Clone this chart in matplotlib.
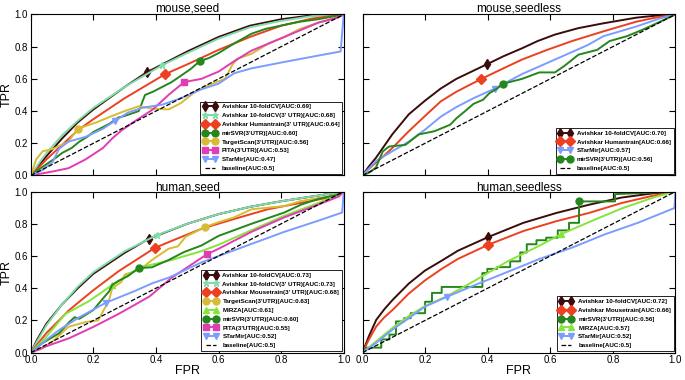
import numpy as np
import matplotlib
matplotlib.use('Agg')
import matplotlib.pyplot as plt

plt.rcParams['font.family'] = ['Liberation Sans', 'DejaVu Sans']

# ---- mouse, seed ----
ms_cv_fpr = [0, 0.02, 0.05, 0.1, 0.15, 0.2, 0.3, 0.37, 0.4, 0.5, 0.6, 0.7, 0.8, 0.9, 1.0]
ms_cv_tpr = [0, 0.05, 0.12, 0.23, 0.33, 0.41, 0.55, 0.64, 0.67, 0.77, 0.86, 0.93, 0.97, 0.995, 1.0]
ms_utr_fpr = [0, 0.02, 0.05, 0.1, 0.15, 0.2, 0.3, 0.42, 0.5, 0.6, 0.7, 0.8, 0.9, 1.0]
ms_utr_tpr = [0, 0.06, 0.14, 0.25, 0.34, 0.42, 0.55, 0.685, 0.76, 0.85, 0.92, 0.96, 0.99, 1.0]
ms_hum_fpr = [0, 0.02, 0.05, 0.1, 0.15, 0.2, 0.3, 0.43, 0.5, 0.6, 0.7, 0.8, 0.9, 1.0]
ms_hum_tpr = [0, 0.04, 0.10, 0.19, 0.28, 0.35, 0.48, 0.63, 0.69, 0.78, 0.86, 0.93, 0.975, 1.0]
ms_svr_fpr = [0, 0.02, 0.05, 0.08, 0.1, 0.13, 0.155, 0.18, 0.2, 0.23, 0.25, 0.28, 0.3, 0.33, 0.345,
              0.355, 0.365, 0.39, 0.42, 0.45, 0.48, 0.51, 0.54, 0.57, 0.6, 0.65, 0.705, 0.75, 0.81,
              0.86, 0.917, 0.96, 1.0]
ms_svr_tpr = [0, 0.03, 0.07, 0.11, 0.14, 0.17, 0.21, 0.24, 0.27, 0.30, 0.32, 0.36, 0.37, 0.39, 0.40,
              0.45, 0.50, 0.52, 0.55, 0.58, 0.62, 0.66, 0.71, 0.73, 0.76, 0.82, 0.88, 0.91, 0.935,
              0.955, 0.97, 0.985, 1.0]
ms_ts_fpr = [0, 0.017, 0.038, 0.07, 0.12, 0.15, 0.21, 0.26, 0.30, 0.345, 0.39, 0.44, 0.48, 0.525,
             0.567, 0.62, 0.645, 0.66, 0.705, 0.76, 0.81, 0.86, 0.92, 0.98, 1.0]
ms_ts_tpr = [0, 0.10, 0.15, 0.165, 0.21, 0.29, 0.33, 0.37, 0.40, 0.43, 0.415, 0.41, 0.45, 0.52,
             0.56, 0.60, 0.69, 0.725, 0.755, 0.82, 0.86, 0.91, 0.95, 0.98, 1.0]
ms_pita_fpr = [0, 0.07, 0.12, 0.175, 0.23, 0.26, 0.29, 0.335, 0.39, 0.44, 0.49, 0.545, 0.60, 0.65,
               0.705, 0.81, 0.92, 0.98, 1.0]
ms_pita_tpr = [0, 0.025, 0.045, 0.10, 0.17, 0.23, 0.28, 0.34, 0.41, 0.50, 0.58, 0.60, 0.645, 0.71,
               0.775, 0.86, 0.95, 0.98, 1.0]
ms_star_fpr = [0, 0.038, 0.07, 0.09, 0.12, 0.175, 0.23, 0.27, 0.31, 0.355, 0.42, 0.48, 0.545, 0.60,
               0.65, 0.705, 0.81, 0.92, 0.99, 1.0]
ms_star_tpr = [0, 0.035, 0.085, 0.165, 0.21, 0.24, 0.29, 0.34, 0.39, 0.42, 0.44, 0.48, 0.535, 0.57,
               0.635, 0.665, 0.705, 0.745, 0.77, 1.0]

# ---- human, seed ----
hs_cv_fpr = [0, 0.02, 0.05, 0.1, 0.15, 0.2, 0.3, 0.377, 0.5, 0.6, 0.7, 0.8, 0.9, 1.0]
hs_cv_tpr = [0, 0.08, 0.18, 0.30, 0.40, 0.49, 0.62, 0.707, 0.80, 0.86, 0.905, 0.94, 0.97, 1.0]
hs_utr_fpr = [0, 0.02, 0.05, 0.1, 0.15, 0.2, 0.3, 0.403, 0.5, 0.6, 0.7, 0.8, 0.9, 1.0]
hs_utr_tpr = [0, 0.07, 0.17, 0.30, 0.41, 0.50, 0.63, 0.73, 0.80, 0.86, 0.905, 0.94, 0.97, 1.0]
hs_mou_fpr = [0, 0.02, 0.049, 0.123, 0.198, 0.28, 0.396, 0.47, 0.547, 0.65, 0.757, 0.863, 0.97, 1.0]
hs_mou_tpr = [0, 0.05, 0.12, 0.265, 0.385, 0.505, 0.65, 0.71, 0.77, 0.83, 0.89, 0.93, 0.97, 1.0]
hs_ts_fpr = [0, 0.03, 0.07, 0.12, 0.175, 0.215, 0.25, 0.26, 0.29, 0.30, 0.325, 0.355, 0.387, 0.44,
             0.47, 0.495, 0.557, 0.60, 0.65, 0.705, 0.757, 0.81, 0.86, 0.92, 0.98, 1.0]
hs_ts_tpr = [0, 0.02, 0.07, 0.16, 0.19, 0.20, 0.325, 0.40, 0.44, 0.485, 0.50, 0.525, 0.575, 0.645,
             0.66, 0.72, 0.78, 0.81, 0.84, 0.89, 0.90, 0.91, 0.94, 0.96, 0.98, 1.0]
hs_mirza_fpr = [0, 0.05, 0.11, 0.186, 0.26, 0.35, 0.44, 0.545, 0.60, 0.705, 0.81, 0.92, 1.0]
hs_mirza_tpr = [0, 0.10, 0.24, 0.32, 0.42, 0.53, 0.57, 0.63, 0.67, 0.76, 0.85, 0.93, 1.0]
hs_svr_fpr = [0, 0.038, 0.09, 0.123, 0.14, 0.155, 0.20, 0.215, 0.23, 0.25, 0.26, 0.28, 0.31, 0.345,
              0.387, 0.44, 0.49, 0.545, 0.60, 0.705, 0.81, 0.865, 0.92, 0.98, 1.0]
hs_svr_tpr = [0, 0.06, 0.12, 0.19, 0.22, 0.21, 0.265, 0.30, 0.335, 0.38, 0.42, 0.445, 0.475, 0.525,
              0.53, 0.575, 0.625, 0.665, 0.725, 0.80, 0.87, 0.92, 0.955, 0.98, 1.0]
hs_pita_fpr = [0, 0.05, 0.123, 0.2, 0.28, 0.335, 0.38, 0.45, 0.562, 0.60, 0.705, 0.81, 0.92, 0.985, 1.0]
hs_pita_tpr = [0, 0.04, 0.09, 0.16, 0.24, 0.30, 0.35, 0.465, 0.61, 0.645, 0.75, 0.84, 0.92, 0.97, 1.0]
hs_star_fpr = [0, 0.05, 0.09, 0.155, 0.24, 0.335, 0.387, 0.44, 0.49, 0.545, 0.60, 0.705, 0.81, 0.92,
               0.995, 1.0]
hs_star_tpr = [0, 0.08, 0.14, 0.22, 0.31, 0.385, 0.43, 0.465, 0.51, 0.56, 0.60, 0.675, 0.75, 0.82,
               0.87, 1.0]

# ---- mouse, seedless ----
msl_cv_fpr = [0, 0.02, 0.043, 0.07, 0.095, 0.148, 0.2, 0.25, 0.3, 0.397, 0.45, 0.51, 0.56, 0.615,
              0.69, 0.77, 0.875, 0.94, 1.0]
msl_cv_tpr = [0, 0.055, 0.11, 0.185, 0.255, 0.38, 0.465, 0.54, 0.60, 0.69, 0.74, 0.79, 0.835, 0.875,
              0.915, 0.945, 0.98, 0.993, 1.0]
msl_hum_fpr = [0, 0.02, 0.043, 0.07, 0.095, 0.148, 0.2, 0.25, 0.3, 0.38, 0.45, 0.51, 0.59, 0.67,
               0.77, 0.875, 0.94, 1.0]
msl_hum_tpr = [0, 0.04, 0.08, 0.125, 0.17, 0.275, 0.37, 0.46, 0.52, 0.60, 0.665, 0.72, 0.78, 0.835,
               0.895, 0.955, 0.982, 1.0]
msl_star_fpr = [0, 0.043, 0.095, 0.148, 0.2, 0.25, 0.30, 0.355, 0.423, 0.51, 0.615, 0.72, 0.77,
                0.875, 0.95, 1.0]
msl_star_tpr = [0, 0.09, 0.15, 0.21, 0.285, 0.365, 0.425, 0.48, 0.54, 0.63, 0.72, 0.81, 0.865,
                0.925, 0.975, 1.0]
msl_svr_fpr = [0, 0.023, 0.043, 0.065, 0.085, 0.137, 0.18, 0.23, 0.28, 0.30, 0.325, 0.355, 0.385,
               0.405, 0.43, 0.45, 0.51, 0.565, 0.615, 0.645, 0.69, 0.75, 0.79, 0.845, 0.895, 0.94, 1.0]
msl_svr_tpr = [0, 0.02, 0.05, 0.15, 0.18, 0.19, 0.255, 0.275, 0.315, 0.355, 0.395, 0.445, 0.47,
               0.51, 0.54, 0.57, 0.60, 0.64, 0.64, 0.68, 0.75, 0.78, 0.835, 0.865, 0.905, 0.945, 1.0]

# ---- human, seedless ----
hsl_cv_fpr = [0, 0.02, 0.044, 0.07, 0.096, 0.148, 0.2, 0.253, 0.305, 0.402, 0.514, 0.619, 0.723,
              0.828, 0.932, 1.0]
hsl_cv_tpr = [0, 0.10, 0.204, 0.27, 0.327, 0.429, 0.51, 0.571, 0.633, 0.718, 0.806, 0.867, 0.918,
              0.963, 0.99, 1.0]
hsl_mou_fpr = [0, 0.02, 0.044, 0.07, 0.096, 0.148, 0.2, 0.253, 0.305, 0.402, 0.514, 0.619, 0.723,
               0.828, 0.932, 1.0]
hsl_mou_tpr = [0, 0.08, 0.163, 0.22, 0.265, 0.367, 0.449, 0.52, 0.582, 0.67, 0.755, 0.816, 0.867,
               0.929, 0.976, 1.0]
hsl_svr_fpr = [0, 0.0125, 0.06, 0.06, 0.086, 0.086, 0.107, 0.107, 0.133, 0.133, 0.154, 0.154, 0.20,
               0.20, 0.222, 0.222, 0.253, 0.253, 0.383, 0.383, 0.399, 0.399, 0.43, 0.43, 0.472, 0.472,
               0.504, 0.504, 0.525, 0.525, 0.556, 0.556, 0.587, 0.587, 0.624, 0.624, 0.66, 0.66,
               0.692, 0.692, 0.807, 0.807, 1.0]
hsl_svr_tpr = [0, 0.031, 0.031, 0.082, 0.082, 0.112, 0.112, 0.194, 0.194, 0.214, 0.214, 0.245, 0.245,
               0.316, 0.316, 0.371, 0.371, 0.408, 0.408, 0.494, 0.494, 0.52, 0.52, 0.531, 0.531, 0.567,
               0.567, 0.622, 0.622, 0.673, 0.673, 0.698, 0.698, 0.714, 0.714, 0.759, 0.759, 0.806,
               0.806, 0.939, 0.939, 0.984, 1.0]
hsl_mirza_fpr = [0, 0.05, 0.1, 0.15, 0.2, 0.27, 0.357, 0.462, 0.566, 0.634, 0.723, 0.828, 0.932, 1.0]
hsl_mirza_tpr = [0, 0.08, 0.16, 0.23, 0.29, 0.35, 0.445, 0.565, 0.665, 0.735, 0.81, 0.895, 0.965, 1.0]
hsl_star_fpr = [0, 0.044, 0.096, 0.148, 0.2, 0.27, 0.357, 0.462, 0.566, 0.671, 0.775, 0.88, 0.997, 1.0]
hsl_star_tpr = [0, 0.061, 0.143, 0.214, 0.286, 0.347, 0.418, 0.50, 0.582, 0.653, 0.735, 0.806, 0.898, 1.0]

styles = {
    'cv': dict(color='#3b0c0c', marker='d'),
    'utr': dict(color='#80dcaa', marker='*'),
    'cross': dict(color='#ec4020', marker='D'),
    'svr': dict(color='#25861c', marker='o'),
    'ts': dict(color='#d8bb34', marker='o'),
    'pita': dict(color='#e03cb4', marker='s'),
    'star': dict(color='#7d9cff', marker='v'),
    'mirza': dict(color='#86e43a', marker='^'),
}

# (fpr, tpr, label, style, index of marker)
panels = [
    ('mouse,seed', [
        (ms_cv_fpr, ms_cv_tpr, 'Avishkar 10-foldCV[AUC:0.69]', 'cv', 7),
        (ms_utr_fpr, ms_utr_tpr, "Avishkar 10-foldCV(3' UTR)[AUC:0.68]", 'utr', 7),
        (ms_hum_fpr, ms_hum_tpr, "Avishkar Humantrain(3' UTR)[AUC:0.64]", 'cross', 7),
        (ms_svr_fpr, ms_svr_tpr, "mirSVR(3'UTR)[AUC:0.60]", 'svr', 22),
        (ms_ts_fpr, ms_ts_tpr, "TargetScan(3'UTR)[AUC:0.56]", 'ts', 5),
        (ms_pita_fpr, ms_pita_tpr, "PITA(3'UTR)[AUC:0.53]", 'pita', 10),
        (ms_star_fpr, ms_star_tpr, 'STarMir[AUC:0.47]', 'star', 7),
    ]),
    ('mouse,seedless', [
        (msl_cv_fpr, msl_cv_tpr, 'Avishkar 10-foldCV[AUC:0.70]', 'cv', 9),
        (msl_hum_fpr, msl_hum_tpr, 'Avishkar Humantrain[AUC:0.66]', 'cross', 9),
        (msl_star_fpr, msl_star_tpr, 'STarMir[AUC:0.57]', 'star', 8),
        (msl_svr_fpr, msl_svr_tpr, "mirSVR(3'UTR)[AUC:0.56]", 'svr', 15),
    ]),
    ('human,seed', [
        (hs_cv_fpr, hs_cv_tpr, 'Avishkar 10-foldCV[AUC:0.73]', 'cv', 7),
        (hs_utr_fpr, hs_utr_tpr, "Avishkar 10-foldCV(3' UTR)[AUC:0.73]", 'utr', 7),
        (hs_mou_fpr, hs_mou_tpr, "Avishkar Mousetrain(3' UTR)[AUC:0.68]", 'cross', 6),
        (hs_ts_fpr, hs_ts_tpr, "TargetScan(3'UTR)[AUC:0.63]", 'ts', 16),
        (hs_mirza_fpr, hs_mirza_tpr, 'MIRZA[AUC:0.61]', 'mirza', 4),
        (hs_svr_fpr, hs_svr_tpr, "mirSVR(3'UTR)[AUC:0.60]", 'svr', 13),
        (hs_pita_fpr, hs_pita_tpr, "PITA(3'UTR)[AUC:0.55]", 'pita', 8),
        (hs_star_fpr, hs_star_tpr, 'STarMir[AUC:0.52]', 'star', 4),
    ]),
    ('human,seedless', [
        (hsl_cv_fpr, hsl_cv_tpr, 'Avishkar 10-foldCV[AUC:0.72]', 'cv', 9),
        (hsl_mou_fpr, hsl_mou_tpr, 'Avishkar Mousetrain[AUC:0.66]', 'cross', 9),
        (hsl_svr_fpr, hsl_svr_tpr, "mirSVR(3'UTR)[AUC:0.56]", 'svr', 39),
        (hsl_mirza_fpr, hsl_mirza_tpr, 'MIRZA[AUC:0.57]', 'mirza', 9),
        (hsl_star_fpr, hsl_star_tpr, 'STarMir[AUC:0.52]', 'star', 5),
    ]),
]

fig, axes = plt.subplots(2, 2, figsize=(6.85, 3.8), dpi=100)
plt.subplots_adjust(left=0.045, right=0.986, top=0.962, bottom=0.072, wspace=0.06, hspace=0.1)

for i, (title, curves) in enumerate(panels):
    ax = axes.flat[i]
    for fpr, tpr, label, key, mi in curves:
        st = styles[key]
        ax.plot(fpr, tpr, color=st['color'], lw=1.4, marker=st['marker'], markevery=[mi],
                markersize=5, markeredgecolor=st['color'], markerfacecolor=st['color'], label=label)
    ax.plot([0, 1], [0, 1], 'k--', lw=0.9, label='baseline[AUC:0.5]')
    ax.set_xlim(0, 1)
    ax.set_ylim(0, 1)
    ax.set_title(title, fontsize=8.5, pad=0.5)
    ax.tick_params(direction='in', top=True, right=True, labelsize=7, length=4, pad=2)
    ax.set_xticks([0, 0.2, 0.4, 0.6, 0.8, 1.0])
    ax.set_yticks([0, 0.2, 0.4, 0.6, 0.8, 1.0])
    ax.xaxis.set_major_formatter(matplotlib.ticker.FormatStrFormatter('%.1f'))
    ax.yaxis.set_major_formatter(matplotlib.ticker.FormatStrFormatter('%.1f'))
    if i < 2:
        ax.tick_params(labelbottom=False)
    else:
        ax.set_xlabel('FPR', fontsize=9, labelpad=0)
    if i % 2 == 1:
        ax.tick_params(labelleft=False)
    else:
        ax.set_ylabel('TPR', fontsize=9, labelpad=1)
    leg = ax.legend(loc='lower right', numpoints=2, prop={'size': 4.5, 'weight': 'bold'},
                    fancybox=False, framealpha=1, borderaxespad=0.3, handlelength=2.2,
                    labelspacing=0.55)
    leg.get_frame().set_edgecolor('black')
    leg.get_frame().set_linewidth(0.6)

plt.savefig('out.png', dpi=100)
